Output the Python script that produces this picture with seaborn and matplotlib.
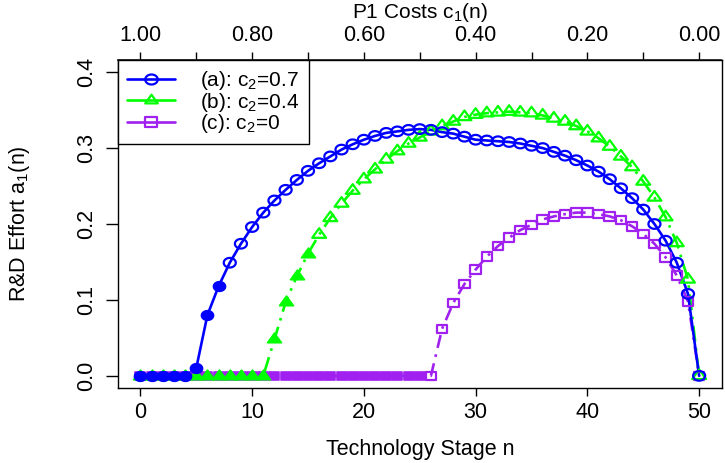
import numpy as np
import matplotlib
matplotlib.use("Agg")
import matplotlib.pyplot as plt
import seaborn as sns
from matplotlib.path import Path
from matplotlib.lines import Line2D

# ---------------- data ----------------
stage = list(range(51))
effort_a = [0, 0, 0, 0, 0, 0.010, 0.080, 0.118, 0.149, 0.174,
            0.196, 0.215, 0.231, 0.245, 0.258, 0.270, 0.280, 0.289, 0.298, 0.305,
            0.311, 0.316, 0.320, 0.322, 0.324, 0.325, 0.324, 0.321, 0.319, 0.315,
            0.311, 0.310, 0.309, 0.308, 0.306, 0.303, 0.300, 0.295, 0.290, 0.284,
            0.277, 0.269, 0.259, 0.247, 0.234, 0.219, 0.200, 0.178, 0.149, 0.108,
            0.0]
effort_b = [0, 0, 0, 0, 0, 0, 0, 0, 0, 0,
            0, 0, 0.048, 0.097, 0.131, 0.161, 0.186, 0.208, 0.227, 0.244,
            0.259, 0.272, 0.285, 0.296, 0.306, 0.314, 0.322, 0.329, 0.335, 0.341,
            0.344, 0.346, 0.347, 0.348, 0.347, 0.346, 0.343, 0.339, 0.335, 0.329,
            0.322, 0.313, 0.302, 0.289, 0.275, 0.256, 0.235, 0.209, 0.175, 0.127,
            0.0]
effort_c = [0, 0, 0, 0, 0, 0, 0, 0, 0, 0,
            0, 0, 0, 0, 0, 0, 0, 0, 0, 0,
            0, 0, 0, 0, 0, 0, 0, 0.062, 0.096, 0.121,
            0.140, 0.157, 0.171, 0.182, 0.192, 0.199, 0.206, 0.210, 0.213, 0.215,
            0.215, 0.213, 0.210, 0.205, 0.197, 0.187, 0.174, 0.156, 0.132, 0.098,
            0.0]
# last technology stage drawn with a filled marker
last_filled = {"a": 7, "b": 15, "c": 25}

series_keys = ["a", "b", "c"]
series_labels = ["(a): c$_2$=0.7", "(b): c$_2$=0.4", "(c): c$_2$=0"]
series_colors = ["#0000FF", "#00FF00", "#A020F0"]

x_ticks = [0, 10, 20, 30, 40, 50]
y_ticks = [0.0, 0.1, 0.2, 0.3, 0.4]
y_tick_labels = ["0.0", "0.1", "0.2", "0.3", "0.4"]
cost_ticks = [1.0, 0.9, 0.8, 0.7, 0.6, 0.5, 0.4, 0.3, 0.2, 0.1, 0.0]
cost_tick_labels = ["1.00", "", "0.80", "", "0.60", "", "0.40", "", "0.20", "", "0.00"]

# ---------------- style ----------------
sns.set_theme(style="ticks")
plt.rcParams["font.family"] = ["Liberation Sans", "DejaVu Sans"]
plt.rcParams["mathtext.fontset"] = "custom"
plt.rcParams["mathtext.rm"] = "Liberation Sans"
plt.rcParams["mathtext.default"] = "regular"
plt.rcParams["text.color"] = "black"
plt.rcParams["axes.labelcolor"] = "black"
plt.rcParams["xtick.color"] = "black"
plt.rcParams["ytick.color"] = "black"

# horizontally stretched marker shapes (as in the reference)
k = 1.25
t = np.linspace(0, 2 * np.pi, 49)
circ = np.column_stack([k * np.cos(t), np.sin(t)])
m_circle = Path(circ, closed=True)
tri = np.array([[0, 1.0], [-0.866 * k, -0.5], [0.866 * k, -0.5], [0, 1.0]])
m_tri = Path(tri, closed=True)
sq = np.array([[-k, -1], [k, -1], [k, 1], [-k, 1], [-k, -1]])
m_square = Path(sq, closed=True)
markers = {"a": m_circle, "b": m_tri, "c": m_square}
marker_sizes = {"a": 75, "b": 100, "c": 58}
linestyles = {"a": "-", "b": (0, (6, 2.5, 1, 2.5)), "c": (0, (5, 2.5, 1, 2.5))}
values = {"a": effort_a, "b": effort_b, "c": effort_c}

fig = plt.figure(figsize=(7.25, 4.63), dpi=100)
ax = fig.add_axes([118 / 725, 1 - 388 / 463, (721.5 - 118) / 725, (388 - 60) / 463])

order = ["c", "b", "a"]
for key in order:
    i = series_keys.index(key)
    col = series_colors[i]
    y = values[key]
    sns.lineplot(x=stage, y=y, ax=ax, color=col, linewidth=1.9,
                 linestyle=linestyles[key], legend=False)
    nf = last_filled[key]
    xs_f, ys_f = stage[:nf + 1], y[:nf + 1]
    xs_o, ys_o = stage[nf + 1:], y[nf + 1:]
    sns.scatterplot(x=xs_f, y=ys_f, ax=ax, marker=markers[key], s=marker_sizes[key],
                    color=col, edgecolor=col, linewidth=1.2, legend=False, zorder=3)
    sns.scatterplot(x=xs_o, y=ys_o, ax=ax, marker=markers[key], s=marker_sizes[key],
                    color=col, facecolor="none", edgecolor=col, linewidth=1.6,
                    legend=False, zorder=3)

ax.set_xlim(-2, 52)
ax.set_ylim(-0.016, 0.416)
ax.set_xticks(x_ticks)
ax.set_xticklabels([str(v) for v in x_ticks])
ax.set_yticks(y_ticks)
ax.set_yticklabels(y_tick_labels, rotation=90, va="center")

for s in ax.spines.values():
    s.set_visible(True)
    s.set_color("black")
    s.set_linewidth(1.0)

ax.tick_params(axis="x", direction="out", length=5.8, width=1, pad=4,
               labelsize=15.5, colors="black")
ax.tick_params(axis="y", direction="out", length=9, width=1, pad=6,
               labelsize=15.5, colors="black")
ax.set_xlabel("Technology Stage n", fontsize=15.5, labelpad=12)
ax.set_ylabel("R&D Effort a$_1$(n)", fontsize=15.5)
ax.yaxis.set_label_coords(-0.142, 0.5)

sec = ax.secondary_xaxis("top", functions=(lambda n: 1 - np.asarray(n) / 50.0,
                                           lambda c: (1 - np.asarray(c)) * 50.0))
sec.set_xticks(cost_ticks)
sec.set_xticklabels(cost_tick_labels)
sec.tick_params(axis="x", direction="out", length=5.8, width=1, pad=4,
                labelsize=15.5, colors="black")
sec.set_xlabel("P1 Costs c$_1$(n)", fontsize=15, labelpad=5)

handles = []
for key, lab, col in zip(series_keys, series_labels, series_colors):
    handles.append(Line2D([], [], color=col, linewidth=1.9, linestyle="-",
                          marker=markers[key], markersize=9, markerfacecolor="none",
                          markeredgecolor=col, markeredgewidth=1.6, label=lab))
leg = ax.legend(handles=handles, loc="upper left", bbox_to_anchor=(0, 1),
                borderaxespad=0, fontsize=15, frameon=True, fancybox=False,
                framealpha=1, edgecolor="black", handlelength=2.3,
                handletextpad=1.2, labelspacing=-0.08, borderpad=0.45)
leg.get_frame().set_linewidth(1.0)

fig.savefig("out.png", dpi=100)
